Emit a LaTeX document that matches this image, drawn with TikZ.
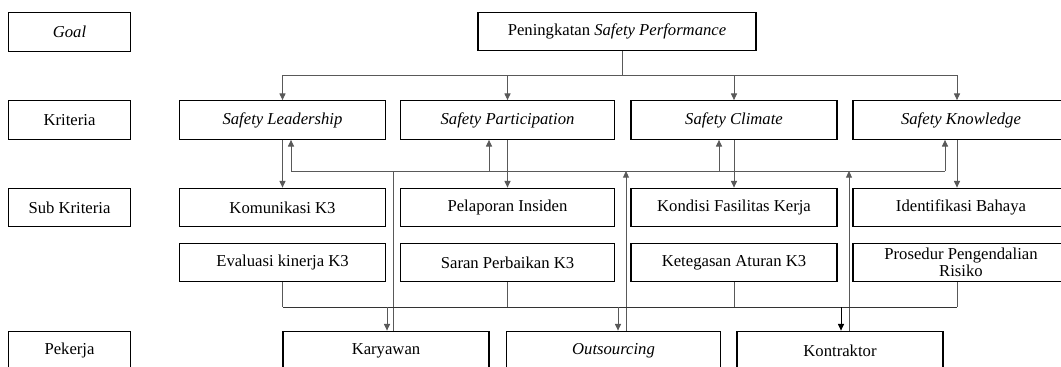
\documentclass[tikz,border=0pt]{standalone}
\usepackage{fontspec}
\setmainfont{Liberation Serif}
\usetikzlibrary{arrows.meta, calc}

\begin{document}
\begin{tikzpicture}[
    x=0.75pt, y=-0.75pt,
    box/.style={draw, line width=0.8pt, minimum height=29pt, inner sep=1pt,
        font=\fontsize{12.5}{14.5}\selectfont, align=center},
    side/.style={box, minimum width=92pt},
    colA/.style={box, minimum width=155pt},
    colB/.style={box, minimum width=160pt},
    colC/.style={box, minimum width=154.5pt},
    colD/.style={box, minimum width=162pt},
    line/.style={draw=black!65, line width=0.7pt},
    arrow/.style={line, -{Triangle[length=5pt, width=4.5pt]}},
]
\clip (0,0) rectangle (1061,367);

% Left labels
\node[side] (goal) at (69.5,32) {\textit{Goal}};
\node[side] (krit) at (69.5,120) {Kriteria};
\node[side] (subk) at (69.5,207.5) {Sub Kriteria};
\node[side] (pekj) at (69.5,350.5) {Pekerja};

% Goal
\node[box, minimum width=208.5pt] (goaltop) at (617,31.5) {Peningkatan \textit{Safety Performance}};

% Kriteria
\node[colA] (lead) at (282.5,120) {\textit{Safety Leadership}};
\node[colB] (part) at (507.5,120) {\textit{Safety Participation}};
\node[colC] (clim) at (734,120) {\textit{Safety Climate}};
\node[colD] (know) at (961,120) {\textit{Safety Knowledge}};

% Sub kriteria
\node[colA] (kom) at (282.5,207.5) {Komunikasi K3};
\node[colA] (eval) at (282.5,262.5) {Evaluasi kinerja K3};
\node[colB] (pel) at (507.5,207.5) {Pelaporan Insiden};
\node[colB] (saran) at (507.5,262.5) {Saran Perbaikan K3};
\node[colC] (kond) at (734,207.5) {Kondisi Fasilitas Kerja};
\node[colC] (teg) at (734,262.5) {Ketegasan Aturan K3};
\node[colD] (iden) at (961,207.5) {Identifikasi Bahaya};
\node[colD, inner sep=0pt] (pros) at (961,262.5) {Prosedur Pengendalian\\[-2pt]Risiko};

% Pekerja
\node[colC] (kary) at (386,350.5) {Karyawan};
\node[colB] (outs) at (613.5,350.5) {\textit{Outsourcing}};
\node[colC] (kont) at (840,350.5) {Kontraktor};

% Goal -> Kriteria
\coordinate (tb) at (622,75);
\draw[line] (goaltop.south -| tb) -- (tb);
\draw[arrow] (tb) -| (lead.north);
\draw[arrow] (tb) -| (part.north);
\draw[arrow] (tb) -| (clim.north);
\draw[arrow] (tb) -| ([xshift=-3pt]know.north);

% Kriteria -> Sub kriteria
\draw[arrow] (lead) -- (kom);
\draw[arrow] (part) -- (pel);
\draw[arrow] (clim) -- (kond);
\draw[arrow] ([xshift=-3pt]know.south) -- ([xshift=-3pt]iden.north);

% Pekerja -> Kriteria
\coordinate (m1) at (291,171);
\coordinate (m2) at (489,171);
\coordinate (m3) at (719,171);
\coordinate (m4) at (945,171);
\draw[line] (m1) -- (m4);
\draw[arrow] (m1) -- (m1 |- lead.south);
\draw[arrow] (m2) -- (m2 |- part.south);
\draw[arrow] (m3) -- (m3 |- clim.south);
\draw[arrow] (m4) -- (m4 |- know.south);

\coordinate (u1) at (393,171);
\coordinate (u2) at (626,171);
\coordinate (u3) at (849,171);
\draw[line] (u1 |- kary.north) -- (u1);
\draw[arrow] (u2 |- outs.north) -- (u2);
\draw[arrow] (u3 |- kont.north) -- (u3);

% Sub kriteria -> Pekerja
\coordinate (lb) at (0,307);
\draw[line] (eval.south) -- (eval.south |- lb);
\draw[line] (saran.south) -- (saran.south |- lb);
\draw[line] (teg.south) -- (teg.south |- lb);
\draw[line] ([xshift=-3pt]pros.south) -- ([xshift=-3pt]pros.south |- lb);
\draw[line, draw=black!80] (eval.south |- lb) -- ([xshift=-3pt]pros.south |- lb);

\coordinate (d1) at (387,307);
\coordinate (d2) at (618,307);
\coordinate (d3) at (841,307);
\draw[arrow] (d1) -- (d1 |- kary.north);
\draw[arrow] (d2) -- (d2 |- outs.north);
\draw[arrow, draw=black] (d3) -- (d3 |- kont.north);

\end{tikzpicture}
\end{document}
